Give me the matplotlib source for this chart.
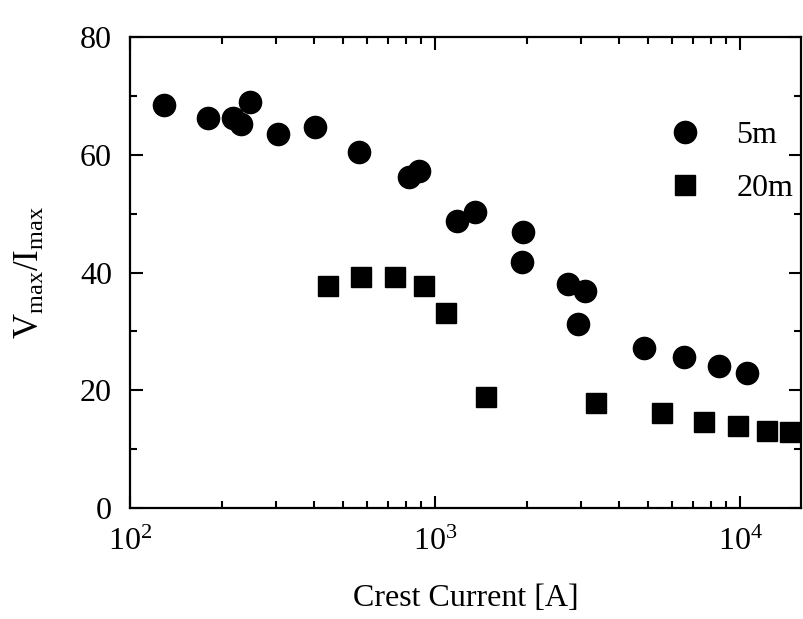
import numpy as np
from matplotlib import pyplot as plt

# crest current [A] and Vmax/Imax
current_5m = [129, 180, 218, 231, 247, 305, 404, 564, 822, 887, 1181, 1353,
              1944, 1928, 2728, 3104, 2944, 4844, 6548, 8531, 10540]
ratio_5m = [68.4, 66.2, 66.3, 65.3, 68.9, 63.5, 64.7, 60.4, 56.2, 57.2, 48.7, 50.3,
            46.9, 41.8, 38.1, 36.8, 31.3, 27.1, 25.7, 24.2, 22.9]

current_20m = [446, 571, 739, 921, 1087, 1469, 3373, 5550, 7620, 9840, 12270, 14600]
ratio_20m = [37.7, 39.2, 39.2, 37.7, 33.2, 18.8, 17.8, 16.2, 14.6, 13.9, 13.1, 12.9]

plt.rcParams["font.family"] = ["Liberation Serif", "DejaVu Serif"]
plt.rcParams["mathtext.fontset"] = "custom"
plt.rcParams["mathtext.rm"] = "Liberation Serif"
plt.rcParams["mathtext.it"] = "Liberation Serif:italic"

fig = plt.figure(figsize=(8.04, 6.19), dpi=100)
ax = fig.add_axes([0.1617, 0.1793, 0.8343, 0.7609])

ax.plot(current_5m, ratio_5m, "o", color="black", markersize=16, label="5m")
ax.plot(current_20m, ratio_20m, "s", color="black", markersize=15, label="20m")

ax.set_xscale("log")
ax.set_xlim(100, 15800)
ax.set_ylim(0, 80)
ax.set_yticks([0, 20, 40, 60, 80])
ax.set_yticks([10, 30, 50, 70], minor=True)

for side in ax.spines.values():
    side.set_linewidth(1.6)

ax.tick_params(which="both", direction="in", top=True, right=True,
               width=1.5, labelsize=23)
ax.tick_params(which="major", length=9)
ax.tick_params(which="minor", length=5)
ax.tick_params(axis="y", pad=13)
ax.tick_params(axis="x", pad=14)

ax.set_xlabel("Crest Current [A]", fontsize=23, labelpad=20)
ax.set_ylabel(r"V$_{\rm max}$/I$_{\rm max}$", fontsize=25, labelpad=24)

ax.legend(loc="upper right", bbox_to_anchor=(1.008, 0.85), frameon=False,
          fontsize=23, labelspacing=0.75, handletextpad=0.6, borderaxespad=0)

fig.savefig("out.png", dpi=100)
